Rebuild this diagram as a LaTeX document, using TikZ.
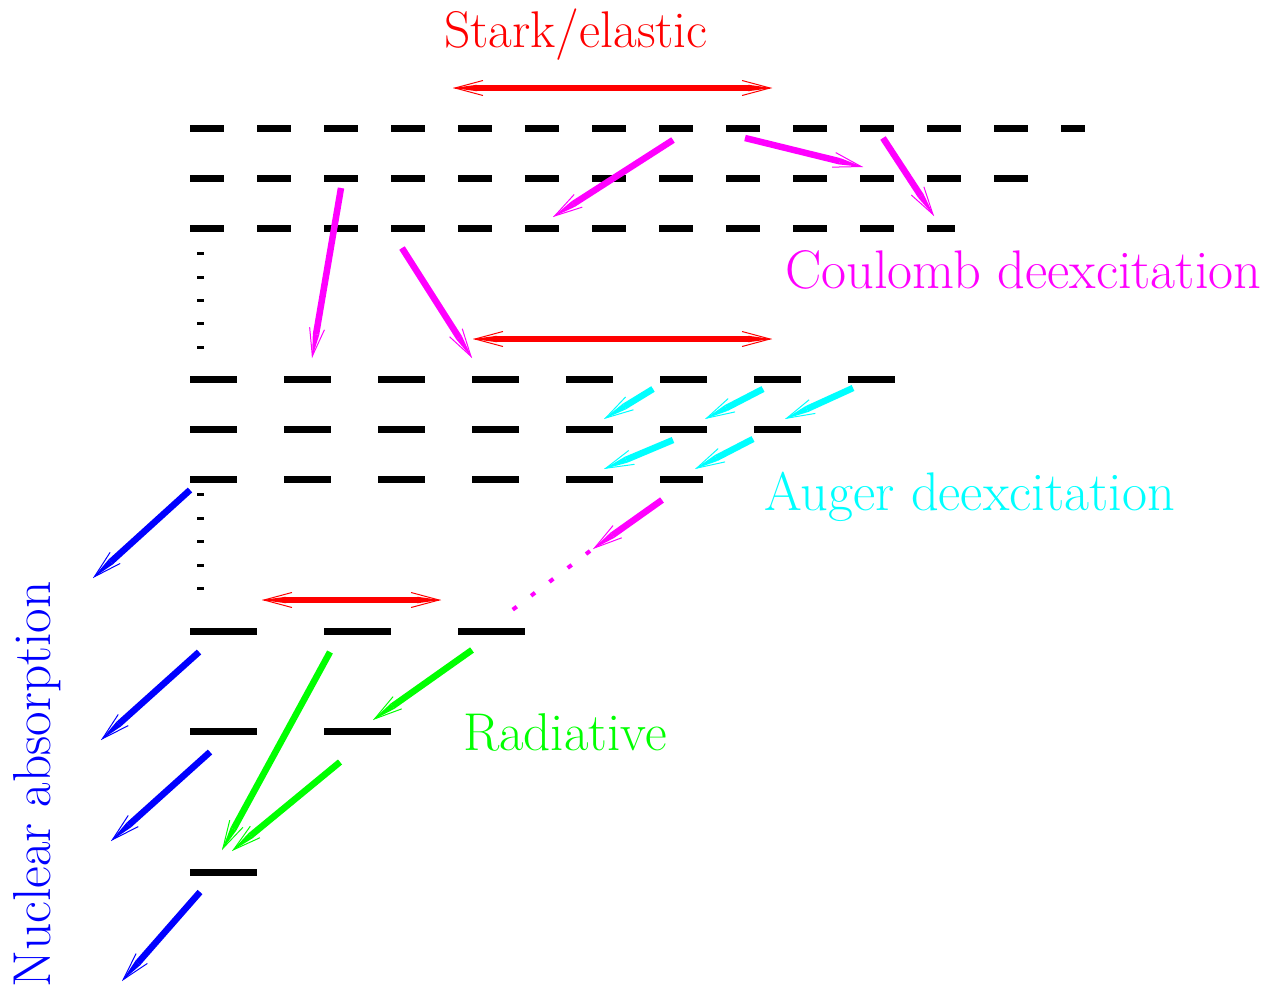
\documentclass[tikz,border=0pt]{standalone}
\usetikzlibrary{arrows.meta}
\definecolor{pureRed}{RGB}{255,0,0}
\definecolor{pureMagenta}{RGB}{255,0,255}
\definecolor{pureCyan}{RGB}{0,255,255}
\definecolor{pureBlue}{RGB}{0,0,255}
\definecolor{pureGreen}{RGB}{0,255,0}
\begin{document}
\begin{tikzpicture}[x=1pt,y=-1pt,
  level/.style={line width=7pt, black},
  gapmark/.style={line width=3pt, black},
  fa/.style={line width=6.5pt,
    -{Triangle[length=24pt,width=6.5pt,line width=0pt]},
    postaction={draw, line width=1pt,
      -{Straight Barb[length=28pt,width=15pt,line width=1pt]}}},
  fab/.style={line width=6.5pt,
    {Triangle[length=24pt,width=6.5pt,line width=0pt]}-{Triangle[length=24pt,width=6.5pt,line width=0pt]},
    postaction={draw, line width=1pt,
      {Straight Barb[length=28pt,width=15pt,line width=1pt]}-{Straight Barb[length=28pt,width=15pt,line width=1pt]}}},
  lbl/.style={inner sep=0pt, anchor=base west, font=\fontsize{#1}{60}\selectfont},
  lbl/.default=54
]
\useasboundingbox (0,0) rectangle (1274,993);

% high-lying levels
\draw[level, dash pattern=on 34pt off 33pt] (190,128) -- (1085,128);
\draw[level, dash pattern=on 34pt off 33pt] (190,178) -- (1028,178);
\draw[level, dash pattern=on 34pt off 33pt] (190,228) -- (955,228);
% intermediate levels
\draw[level, dash pattern=on 47pt off 47pt] (190,379) -- (895,379);
\draw[level, dash pattern=on 47pt off 47pt] (190,429) -- (801,429);
\draw[level, dash pattern=on 47pt off 47pt] (190,479) -- (703,479);
% low-lying levels
\draw[level, dash pattern=on 67pt off 67pt] (190,631) -- (525,631);
\draw[level, dash pattern=on 67pt off 67pt] (190,731) -- (391,731);
\draw[level, dash pattern=on 67pt off 67pt] (190,872) -- (257,872);

% vertical ellipses between groups
\foreach \yy in {253,277,300,323,347,494,518,541,565,588}
  \draw[gapmark] (197,\yy) -- (204,\yy);

% end points of the transitions
\coordinate (s1a) at (453,88);  \coordinate (s1b) at (772,88);
\coordinate (s2a) at (473,339); \coordinate (s2b) at (772,339);
\coordinate (s3a) at (262,600); \coordinate (s3b) at (441,600);

\coordinate (c1a) at (673,140); \coordinate (c1b) at (553,217);
\coordinate (c2a) at (745,138); \coordinate (c2b) at (863,167);
\coordinate (c3a) at (883,138); \coordinate (c3b) at (934,216);
\coordinate (c4a) at (341,188); \coordinate (c4b) at (312,358);
\coordinate (c5a) at (402,248); \coordinate (c5b) at (472,358);
\coordinate (c6a) at (662,500); \coordinate (c6b) at (593,549);
\coordinate (d1a) at (590,551); \coordinate (d1b) at (511,611);

\coordinate (a1a) at (653,389); \coordinate (a1b) at (604,419);
\coordinate (a2a) at (763,389); \coordinate (a2b) at (705,419);
\coordinate (a3a) at (853,388); \coordinate (a3b) at (785,419);
\coordinate (a4a) at (673,440); \coordinate (a4b) at (604,469);
\coordinate (a5a) at (753,439); \coordinate (a5b) at (695,469);

\coordinate (n1a) at (190,490); \coordinate (n1b) at (93,578);
\coordinate (n2a) at (199,652); \coordinate (n2b) at (101,740);
\coordinate (n3a) at (210,752); \coordinate (n3b) at (111,841);
\coordinate (n4a) at (200,892); \coordinate (n4b) at (122,981);

\coordinate (g1a) at (330,652); \coordinate (g1b) at (222,850);
\coordinate (g2a) at (340,762); \coordinate (g2b) at (232,851);
\coordinate (g3a) at (472,650); \coordinate (g3b) at (373,720);

% Stark / elastic mixing
\draw[fab, pureRed] (s1a) -- (s1b);
\draw[fab, pureRed] (s2a) -- (s2b);
\draw[fab, pureRed] (s3a) -- (s3b);

% Coulomb deexcitation
\foreach \t in {c1,c2,c3,c4,c5,c6}
  \draw[fa, pureMagenta] (\t a) -- (\t b);
\draw[pureMagenta, line width=4pt, dash pattern=on 5pt off 18pt] (d1a) -- (d1b);

% Auger deexcitation
\foreach \t in {a1,a2,a3,a4,a5}
  \draw[fa, pureCyan] (\t a) -- (\t b);

% nuclear absorption
\foreach \t in {n1,n2,n3,n4}
  \draw[fa, pureBlue] (\t a) -- (\t b);

% radiative transitions
\foreach \t in {g1,g2,g3}
  \draw[fa, pureGreen] (\t a) -- (\t b);

% labels
\node[lbl=51.6, pureRed] (tstark) at (444,47) {Stark/elastic};
\node[lbl=54.4, pureMagenta] (tcoul) at (785,288) {Coulomb deexcitation};
\node[lbl=54.4, pureCyan] (taug) at (764,510) {Auger deexcitation};
\node[lbl=53.2, pureGreen] (trad) at (463,750) {Radiative};
\node[lbl=53.4, pureBlue, rotate=90] (tnuc) at (50,988) {Nuclear absorption};
\end{tikzpicture}
\end{document}
